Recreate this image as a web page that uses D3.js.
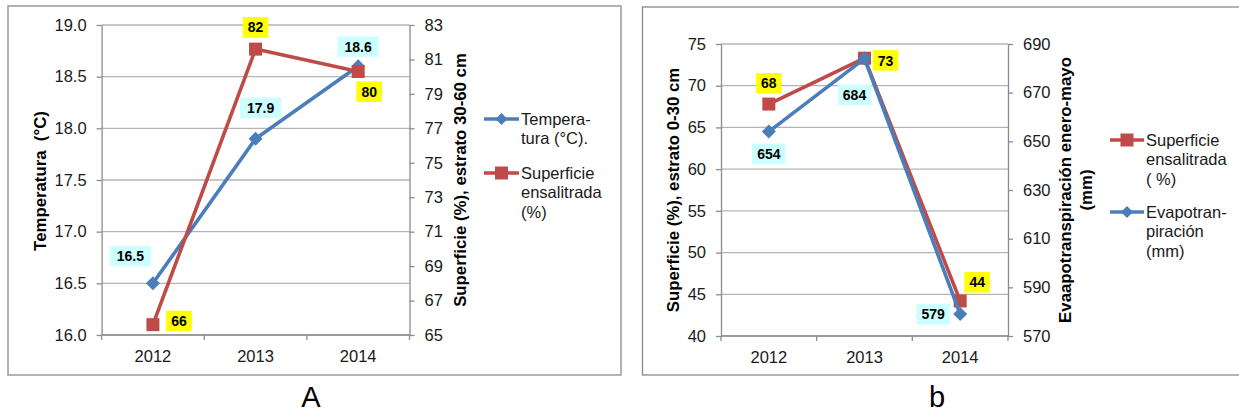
<!DOCTYPE html>
<html><head><meta charset="utf-8">
<script src="https://cdn.jsdelivr.net/npm/d3@7"></script>
<style>
body{margin:0;background:#fff}
text{font-family:"Liberation Sans",Arial,sans-serif}
</style>
</head><body>
<svg id="c" width="1239" height="413"></svg>
<script>
// ---- data ----
const years = ["2012", "2013", "2014"];
const tempA = [16.5, 17.9, 18.6];
const supA = [65.6, 81.6, 80.3];
const supALabels = ["66", "82", "80"];
const supB = [67.8, 73.3, 44.2];
const supBLabels = ["68", "73", "44"];
const etB = [654, 684, 579];
const ticksTemp = [16.0, 16.5, 17.0, 17.5, 18.0, 18.5, 19.0];
const ticksSupA = [65, 67, 69, 71, 73, 75, 77, 79, 81, 83];
const ticksSupB = [40, 45, 50, 55, 60, 65, 70, 75];
const ticksET = [570, 590, 610, 630, 650, 670, 690];

const BLUE = "#4a7ebb", RED = "#be4b48", CYAN = "#ccffff", YELLOW = "#ffff00";
const GRID = "#b4b4b4", AXIS = "#8c8c8c", TXT = "#1a1a1a";
const svg = d3.select("#c");

function styleAxis(g) {
  g.select(".domain").attr("stroke", AXIS).attr("stroke-width", 1.3);
  g.selectAll(".tick line").attr("stroke", AXIS).attr("stroke-width", 1.3);
  g.selectAll(".tick text").attr("fill", TXT).style("font-size", "16.5px")
    .style("font-family", '"Liberation Sans",Arial,sans-serif');
}

function panel(o) {
  const g = svg.append("g");
  // frame
  g.append("rect").attr("x", o.frame[0]).attr("y", o.frame[1])
    .attr("width", o.frame[2]).attr("height", o.frame[3])
    .attr("fill", "none").attr("stroke", "#8a8a8a").attr("stroke-width", 1.3);

  const x = d3.scaleBand().domain(years).range([o.left, o.right]).padding(0);
  const yL = d3.scaleLinear().domain(o.domL).range([o.bottom, o.top]);
  const yR = d3.scaleLinear().domain(o.domR).range([o.bottom, o.top]);

  // gridlines
  g.append("g").selectAll("line").data(o.ticksL).join("line")
    .attr("x1", o.left).attr("x2", o.right)
    .attr("y1", d => yL(d)).attr("y2", d => yL(d))
    .attr("stroke", GRID).attr("stroke-width", 1.3);

  // left axis
  g.append("g").attr("transform", `translate(${o.left},0)`)
    .call(d3.axisLeft(yL).tickValues(o.ticksL).tickFormat(o.fmtL).tickSize(5).tickPadding(10).tickSizeOuter(0))
    .call(styleAxis);
  // right axis
  g.append("g").attr("transform", `translate(${o.right},0)`)
    .call(d3.axisRight(yR).tickValues(o.ticksR).tickFormat(d3.format("d")).tickSize(5).tickPadding(10).tickSizeOuter(0))
    .call(styleAxis);
  // bottom axis
  const bx = g.append("g").attr("transform", `translate(0,${o.bottom})`);
  bx.append("line").attr("x1", o.left).attr("x2", o.right).attr("stroke", AXIS).attr("stroke-width", 1.3);
  const edges = years.map(d => x(d)).concat([x(years[years.length - 1]) + x.bandwidth()]);
  bx.selectAll("line.tk").data(edges).join("line").attr("class", "tk")
    .attr("x1", d => d).attr("x2", d => d).attr("y1", 0).attr("y2", 5)
    .attr("stroke", AXIS).attr("stroke-width", 1.3);
  bx.selectAll("text").data(years).join("text")
    .attr("x", d => x(d) + x.bandwidth() / 2).attr("y", 27)
    .attr("text-anchor", "middle").attr("fill", TXT).style("font-size", "16.5px").text(d => d);

  const cx = d => x(d) + x.bandwidth() / 2;

  // series
  o.series.forEach(s => {
    const y = s.axis === "L" ? yL : yR;
    const line = d3.line().x((d, i) => cx(years[i])).y(d => y(d));
    g.append("path").datum(s.values).attr("d", line)
      .attr("fill", "none").attr("stroke", s.color).attr("stroke-width", 3.6)
      .attr("stroke-linejoin", "round");
    g.append("g").selectAll("path").data(s.values).join("path")
      .attr("transform", (d, i) => `translate(${cx(years[i])},${y(d)})`)
      .attr("d", s.marker === "square" ? "M-6.5,-6.5H6.5V6.5H-6.5Z" : "M0,-7L7,0L0,7L-7,0Z")
      .attr("fill", s.color);
  });
  // labels (drawn after all series)
  o.series.forEach(s => {
    const y = s.axis === "L" ? yL : yR;
    s.values.forEach((d, i) => {
      const px = cx(years[i]) + s.off[i][0], py = y(d) + s.off[i][1];
      const t = s.labels[i];
      const w = t.length * 7.8 + 10;
      g.append("rect").attr("x", px - w / 2).attr("y", py - 10).attr("width", w).attr("height", 20.5)
        .attr("fill", s.bg);
      g.append("text").attr("x", px).attr("y", py).attr("dy", "0.38em")
        .attr("text-anchor", "middle").attr("fill", "#000")
        .style("font-size", "14px").style("font-weight", "bold").text(t);
    });
  });

  // axis titles
  o.titles.forEach(t => {
    g.append("text").attr("transform", `translate(${t.x},${t.y}) rotate(-90)`)
      .attr("text-anchor", "middle").attr("dy", "0.36em").style("white-space", "pre")
      .attr("fill", "#000").style("font-size", "16.8px").style("font-weight", "bold").text(t.text);
  });

  // legend
  o.legend.forEach(l => {
    g.append("line").attr("x1", l.x1).attr("x2", l.x2).attr("y1", l.y).attr("y2", l.y)
      .attr("stroke", l.color).attr("stroke-width", 3.6);
    g.append("path").attr("transform", `translate(${(l.x1 + l.x2) / 2},${l.y})`)
      .attr("d", l.marker === "square" ? "M-6.5,-6.5H6.5V6.5H-6.5Z" : "M0,-6L6,0L0,6L-6,0Z")
      .attr("fill", l.color);
    l.lines.forEach((ln, k) => {
      g.append("text").attr("x", l.x2 + 2).attr("y", l.y + k * 19.5).attr("dy", "0.36em")
        .attr("fill", TXT).style("font-size", "16.5px").text(ln);
    });
  });

  // caption
  g.append("text").attr("x", o.cap[0]).attr("y", o.cap[1]).attr("text-anchor", "middle")
    .attr("fill", "#000").style("font-size", "29px").text(o.cap[2]);
}

panel({
  frame: [8, 6, 613, 369],
  left: 101.6, right: 409.5, top: 25, bottom: 335,
  domL: [16, 19], domR: [65, 83],
  ticksL: ticksTemp, ticksR: ticksSupA, fmtL: d3.format(".1f"),
  series: [
    {values: tempA, axis: "L", color: BLUE, marker: "diamond", bg: CYAN,
     labels: tempA.map(d3.format(".1f")), off: [[-22.5, -27.5], [5, -31], [0, -20]]},
    {values: supA, axis: "R", color: RED, marker: "square", bg: YELLOW,
     labels: supALabels, off: [[26, -4], [0, -22], [11, 20]]}
  ],
  titles: [{x: 40, y: 181, text: "Temperatura  (°C)"},
           {x: 460, y: 180, text: "Superficie (%), estrato 30-60 cm"}],
  legend: [
    {x1: 484, x2: 519, y: 119, color: BLUE, marker: "diamond", lines: ["Tempera-", "tura (°C)."]},
    {x1: 484, x2: 519, y: 173, color: RED, marker: "square", lines: ["Superficie", "ensalitrada", "(%)"]}
  ],
  cap: [311, 407, "A"]
});

panel({
  frame: [642.5, 7, 620, 368],
  left: 721, right: 1008, top: 44, bottom: 336,
  domL: [40, 75], domR: [570, 690],
  ticksL: ticksSupB, ticksR: ticksET, fmtL: d3.format("d"),
  series: [
    {values: supB, axis: "L", color: RED, marker: "square", bg: YELLOW,
     labels: supBLabels, off: [[0, -21], [21, 2], [17, -19]]},
    {values: etB, axis: "R", color: BLUE, marker: "diamond", bg: CYAN,
     labels: etB.map(d3.format("d")), off: [[0, 22], [-10, 36], [-27, 0]]}
  ],
  titles: [{x: 673, y: 190, text: "Superficie (%), estrato 0-30 cm"},
           {x: 1065, y: 190, text: "Evaapotranspiración enero-mayo"},
           {x: 1086, y: 190, text: "(mm)"}],
  legend: [
    {x1: 1110, x2: 1144, y: 140, color: RED, marker: "square", lines: ["Superficie", "ensalitrada", "( %)"]},
    {x1: 1110, x2: 1144, y: 212, color: BLUE, marker: "diamond", lines: ["Evapotran-", "piración", "(mm)"]}
  ],
  cap: [937, 407, "b"]
});
</script>
</body></html>
